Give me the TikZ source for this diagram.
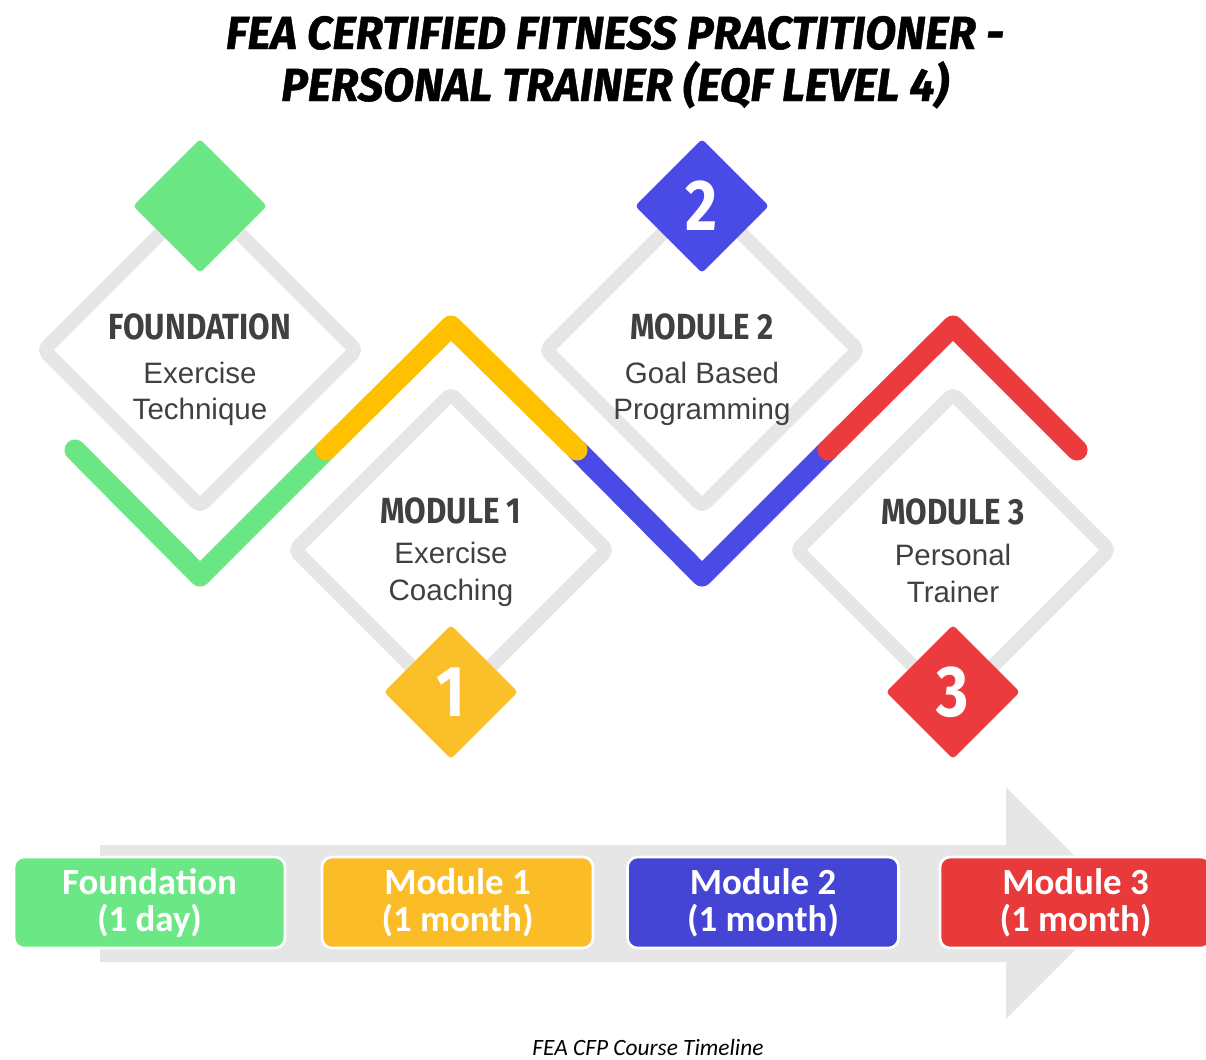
\documentclass[tikz,border=0pt]{standalone}
\usepackage{fontspec}
\setmainfont{Liberation Sans}
\newfontfamily\headfont[FakeStretch=0.86]{Fira Sans}
\newfontfamily\bannerfont[FakeStretch=0.97,FakeBold=1]{Fira Sans}
\newfontfamily\boxfont{Carlito}
\usetikzlibrary{shapes.geometric,positioning}

\definecolor{ringgrey}{HTML}{E6E6E6}
\definecolor{textgrey}{HTML}{404040}
\definecolor{fndgreen}{HTML}{6AE684}
\definecolor{zigyellow}{HTML}{FFC000}
\definecolor{badgeyellow}{HTML}{FBBF29}
\definecolor{modblue}{HTML}{4A4AE6}
\definecolor{modred}{HTML}{EB3B3E}
\definecolor{boxgreen}{HTML}{6BE885}
\definecolor{boxyellow}{HTML}{FBBD27}
\definecolor{boxblue}{HTML}{4545D5}
\definecolor{boxred}{HTML}{E83A3B}

\begin{document}
\begin{tikzpicture}[x=0.02cm,y=-0.02cm,
	ring/.style={draw=ringgrey,line width=8pt,line join=round,rounded corners=3pt,shape=diamond,aspect=1,minimum size=6.36cm,inner sep=0pt},
	badge/.style={shape=diamond,aspect=1,minimum size=2.68cm,inner sep=0pt,rounded corners=2pt,text=white,font=\headfont\bfseries\fontsize{41}{41}\selectfont},
	zig/.style={line width=12pt,line cap=round,line join=round},
	ttl/.style={anchor=base,text=textgrey,font=\headfont\bfseries\fontsize{20.7}{24}\selectfont},
	sub/.style={anchor=base,text=textgrey,font=\fontsize{16.8}{20}\selectfont},
	modbox/.style={draw=white,line width=1.5pt,rounded corners=0.2cm,minimum width=5.42cm,minimum height=1.82cm,align=center,text=white,font=\boxfont\bfseries\fontsize{21}{21}\selectfont}]
	\useasboundingbox (0,0) rectangle (1206,1059);

	% heading
	\node[anchor=base,font=\bannerfont\bfseries\itshape\fontsize{26.4}{30}\selectfont] (banner1) at (615,49) {FEA CERTIFIED FITNESS PRACTITIONER -};
	\node[anchor=base,font=\bannerfont\bfseries\itshape\fontsize{26.4}{30}\selectfont] (banner2) at (615,101) {PERSONAL TRAINER (EQF LEVEL 4)};

	% grey frames
	\node[ring] (ringfnd) at (200,350) {};
	\node[ring] (ringone) at (451,550) {};
	\node[ring] (ringtwo) at (702,350) {};
	\node[ring] (ringthree) at (953,550) {};

	% zigzag
	\draw[zig,fndgreen] (75,450) -- (200,576) -- (326,450);
	\draw[zig,modblue] (577,450) -- (702,576) -- (828,450);
	\draw[zig,zigyellow] (326,450) -- (451,326) -- (577,450);
	\draw[zig,modred] (828,450) -- (953,326) -- (1077,450);

	% badges
	\node[badge,fill=fndgreen] (badgefnd) at (200,206) {};
	\node[badge,fill=badgeyellow] (badgeone) at (451,692) {1};
	\node[badge,fill=modblue] (badgetwo) at (702,206) {2};
	\node[badge,fill=modred] (badgethree) at (953,692) {3};

	% labels
	\node[ttl] (ttlfnd) at (200,339) {FOUNDATION};
	\node[sub] (subfnda) at (200,383) {Exercise};
	\node[sub] (subfndb) at (200,419) {Technique};
	\node[ttl] (ttlone) at (451,523) {MODULE 1};
	\node[sub] (subonea) at (451,563) {Exercise};
	\node[sub] (suboneb) at (451,600) {Coaching};
	\node[ttl] (ttltwo) at (702,339) {MODULE 2};
	\node[sub] (subtwoa) at (702,383) {Goal Based};
	\node[sub] (subtwob) at (702,419) {Programming};
	\node[ttl] (ttlthree) at (953,524) {MODULE 3};
	\node[sub] (subthreea) at (953,565) {Personal};
	\node[sub] (subthreeb) at (953,602) {Trainer};

	% timeline arrow
	\fill[ringgrey] (100,845) -- (1006,845) -- (1006,787) -- (1122,903) -- (1006,1019) -- (1006,962) -- (100,962) -- cycle;

	\node[modbox,fill=boxgreen] (boxfnd) at (149.5,902.5) {Foundation\\(1 day)};
	\node[modbox,fill=boxyellow] (boxone) at (457.5,902.5) {Module 1\\(1 month)};
	\node[modbox,fill=boxblue] (boxtwo) at (763,902.5) {Module 2\\(1 month)};
	\node[modbox,fill=boxred] (boxthree) at (1075.5,902.5) {Module 3\\(1 month)};

	\node[anchor=base,font=\boxfont\itshape\fontsize{13.3}{15}\selectfont] (caption) at (648,1055) {FEA CFP Course Timeline};
\end{tikzpicture}
\end{document}
